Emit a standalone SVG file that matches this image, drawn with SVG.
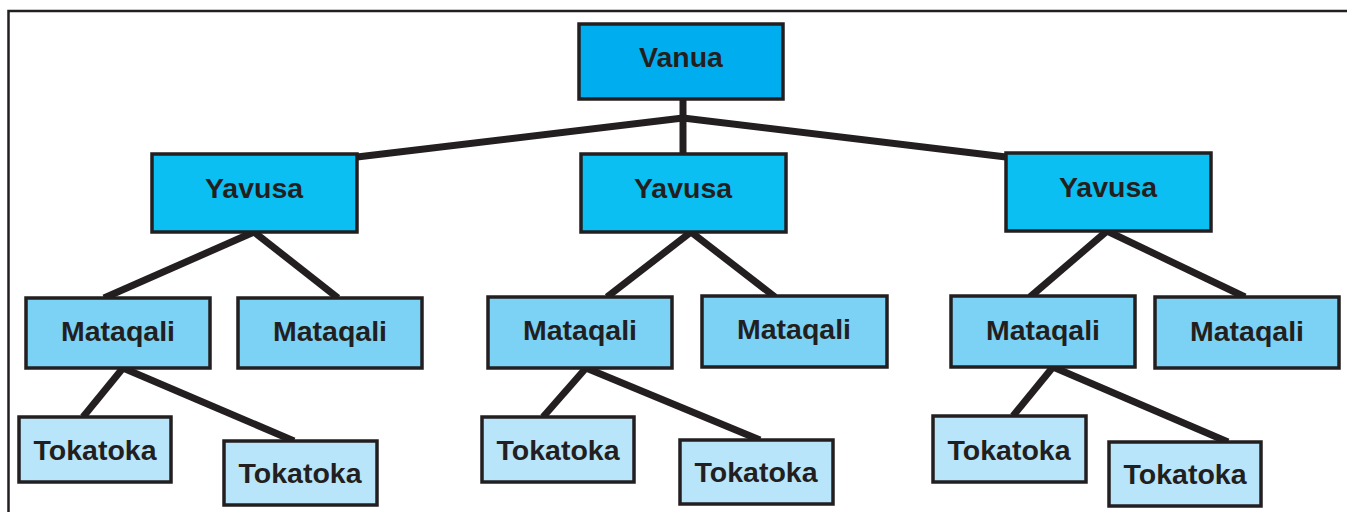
<svg xmlns="http://www.w3.org/2000/svg" width="1347" height="512" viewBox="0 0 1347 512">
<style>
.box{stroke:#231f20;stroke-width:3.5}
.l0{fill:#00aeef}
.l1{fill:#0bbff2}
.l2{fill:#7bd2f5}
.l3{fill:#b8e5f9}
text{font-family:"Liberation Sans",Arial,sans-serif;font-weight:bold;font-size:28.5px;fill:#231f20;text-anchor:middle}
.con line{stroke:#231f20;stroke-width:7;stroke-linecap:butt}
</style>
<rect width="1347" height="512" fill="#ffffff"/>
<path d="M8.5,512 V11 H1347" fill="none" stroke="#231f20" stroke-width="2.5"/>
<g class="con" id="connectors">
<line x1="683" y1="99" x2="683" y2="154"/>
<line x1="683" y1="118" x2="357" y2="157"/>
<line x1="683" y1="118" x2="1006" y2="157"/>
<line x1="254" y1="232" x2="104" y2="298"/>
<line x1="254" y1="232" x2="338" y2="298"/>
<line x1="691" y1="232" x2="607" y2="297"/>
<line x1="691" y1="232" x2="775" y2="297"/>
<line x1="1107" y1="231" x2="1030" y2="297"/>
<line x1="1107" y1="231" x2="1245" y2="297"/>
<line x1="123" y1="368" x2="83" y2="417"/>
<line x1="123" y1="368" x2="294" y2="441"/>
<line x1="586" y1="368" x2="543" y2="417"/>
<line x1="586" y1="368" x2="760" y2="440"/>
<line x1="1053" y1="367" x2="1013" y2="416"/>
<line x1="1053" y1="367" x2="1228" y2="442"/>
</g>
<g id="vanua"><rect class="box l0" x="579" y="24" width="204" height="75"/><text x="681" y="67">Vanua</text></g>
<g id="yavusa1"><rect class="box l1" x="152" y="154" width="205" height="78"/><text x="254" y="198">Yavusa</text></g>
<g id="yavusa2"><rect class="box l1" x="581" y="154" width="205" height="78"/><text x="683" y="198">Yavusa</text></g>
<g id="yavusa3"><rect class="box l1" x="1006" y="153" width="205" height="78"/><text x="1108" y="197">Yavusa</text></g>
<g id="mataqali1"><rect class="box l2" x="26" y="298" width="184" height="70"/><text x="118" y="341">Mataqali</text></g>
<g id="mataqali2"><rect class="box l2" x="238" y="298" width="184" height="70"/><text x="330" y="341">Mataqali</text></g>
<g id="mataqali3"><rect class="box l2" x="488" y="297" width="184" height="71"/><text x="580" y="340">Mataqali</text></g>
<g id="mataqali4"><rect class="box l2" x="702" y="296" width="185" height="71"/><text x="794" y="339">Mataqali</text></g>
<g id="mataqali5"><rect class="box l2" x="951" y="296" width="184" height="71"/><text x="1043" y="340">Mataqali</text></g>
<g id="mataqali6"><rect class="box l2" x="1155" y="297" width="184" height="71"/><text x="1247" y="341">Mataqali</text></g>
<g id="tokatoka1"><rect class="box l3" x="19" y="417" width="152" height="65"/><text x="95" y="460">Tokatoka</text></g>
<g id="tokatoka2"><rect class="box l3" x="224" y="441" width="153" height="64"/><text x="300" y="483">Tokatoka</text></g>
<g id="tokatoka3"><rect class="box l3" x="482" y="417" width="152" height="65"/><text x="558" y="460">Tokatoka</text></g>
<g id="tokatoka4"><rect class="box l3" x="680" y="440" width="153" height="64"/><text x="756" y="482">Tokatoka</text></g>
<g id="tokatoka5"><rect class="box l3" x="933" y="416" width="153" height="66"/><text x="1009" y="460">Tokatoka</text></g>
<g id="tokatoka6"><rect class="box l3" x="1109" y="442" width="152" height="64"/><text x="1185" y="484">Tokatoka</text></g>
</svg>
